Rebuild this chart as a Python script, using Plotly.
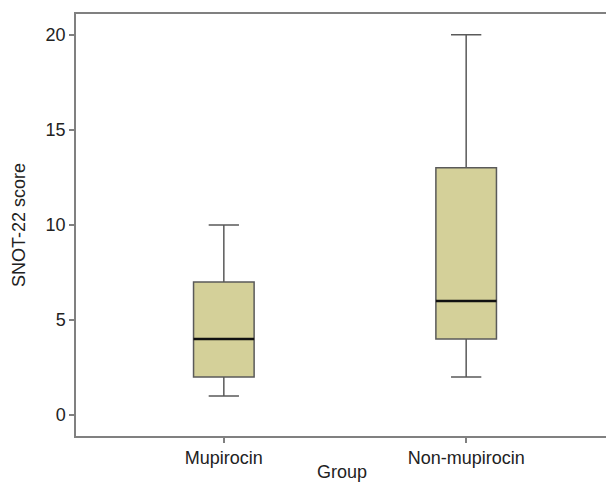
import plotly.graph_objects as go

groups = ["Mupirocin", "Non-mupirocin"]
minimum = [1, 2]
q1 = [2, 4]
median = [4, 6]
q3 = [7, 13]
maximum = [10, 20]

positions = list(range(len(groups)))
box_width = 0.25

fig = go.Figure()
fig.add_trace(go.Box(
    x=positions, q1=q1, median=median, q3=q3,
    lowerfence=minimum, upperfence=maximum,
    width=box_width, whiskerwidth=0.5,
    fillcolor="#d4d099", line=dict(color="#5a5a5a", width=1.5),
    boxpoints=False, showlegend=False, hoverinfo="skip",
))
for p, m in zip(positions, median):
    fig.add_trace(go.Scatter(
        x=[p - box_width / 2, p + box_width / 2], y=[m, m],
        mode="lines", line=dict(color="#111111", width=2.4),
        showlegend=False, hoverinfo="skip",
    ))

font = dict(family="Liberation Sans, Arial, sans-serif", size=18, color="#222222")
fig.update_layout(
    width=606, height=476,
    margin=dict(l=68, r=0, t=6, b=48),
    plot_bgcolor="white", paper_bgcolor="white",
    font=font,
    annotations=[dict(
        text="Group", xref="paper", yref="paper", x=0.494, y=0,
        xanchor="center", yanchor="middle", yshift=-36, showarrow=False,
        font=dict(size=18, color="#222222"),
    )],
)
fig.update_xaxes(
    range=[-0.61, 1.61], tickvals=positions, ticktext=groups,
    showline=True, linecolor="#808080", linewidth=1.5, mirror=True,
    ticks="outside", ticklen=5, tickcolor="#808080", tickwidth=1.5,
    showgrid=False, zeroline=False,
)
fig.update_yaxes(
    range=[-1.1, 21.09], tickvals=[0, 5, 10, 15, 20],
    showline=True, linecolor="#808080", linewidth=1.5,
    ticks="outside", ticklen=5, tickcolor="#808080", tickwidth=1.5,
    showgrid=False, zeroline=False,
    title=dict(text="SNOT-22 score", standoff=15, font=dict(size=18)),
)
fig.write_html("out.html")
